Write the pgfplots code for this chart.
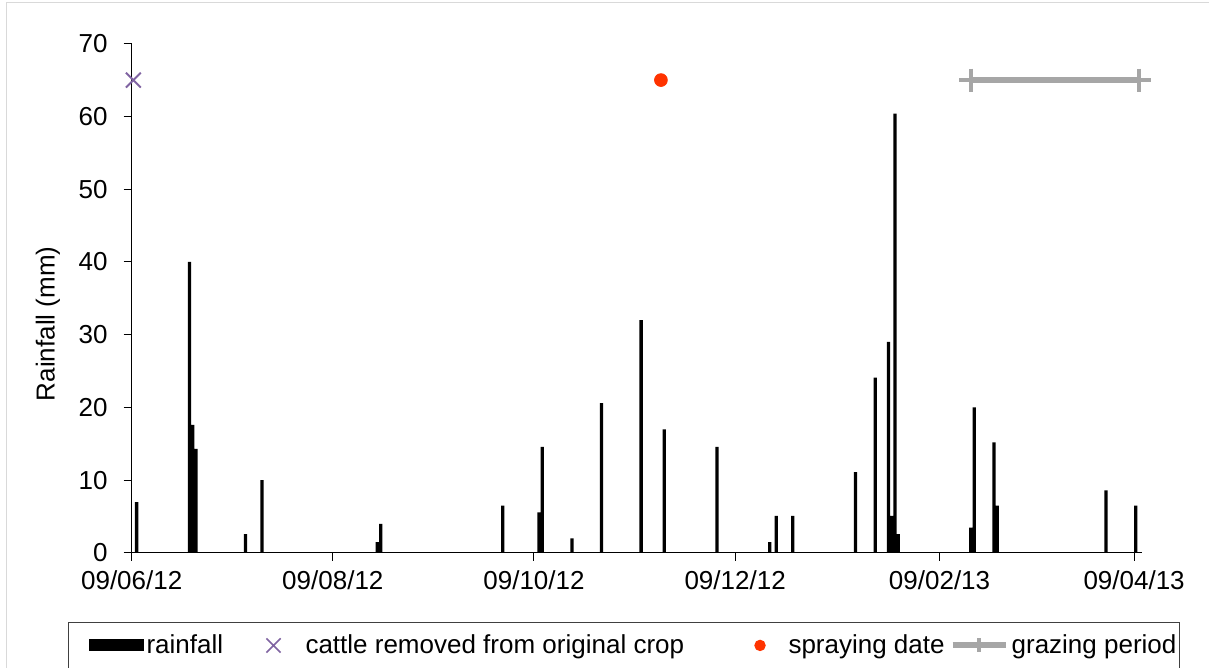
\documentclass[border=0pt]{standalone}
\usepackage{fontspec}
\setmainfont{Liberation Sans}
\usepackage{pgfplots}
\usepackage{pgfplotstable}
\pgfplotsset{compat=1.18}

\definecolor{cattle}{RGB}{128,100,162}
\definecolor{spray}{RGB}{255,51,0}
\definecolor{graze}{RGB}{166,166,166}
\newcommand{\chartfont}{\fontsize{13}{15.6}\selectfont}

% days after 09/06/12 (bars sit half a day right of the date), rainfall in mm
\pgfplotstableread{
day   rain
1.5   7
17.5  40
18.5  17.6
19.5  14.3
34.5  2.6
39.5  10
74.5  1.5
75.5  4
112.5 6.5
123.5 5.6
124.5 14.6
133.5 2
142.5 20.6
154.5 32
161.5 17
177.5 14.6
193.5 1.5
195.5 5.1
200.5 5.1
219.5 11.1
225.5 24.1
229.5 29
230.5 5.1
231.5 60.4
232.5 2.6
254.5 3.5
255.5 20
261.5 15.2
262.5 6.5
295.5 8.6
304.5 6.5
}\rainfall

\begin{document}
\begin{tikzpicture}
\begin{axis}[
    at={(65.85pt,57.5pt)}, anchor=south west,
    scale only axis,
    width=505.15pt, height=254.65pt,
    xmin=0, xmax=306.4,
    ymin=0, ymax=70,
    axis x line=bottom, axis y line=left,
    axis line style={-, black, line width=0.5pt},
    tick style={black, line width=0.5pt},
    tick align=outside, major tick length=4pt,
    xtick={0,61,122,183,245,304},
    xticklabels={09/06/12,09/08/12,09/10/12,09/12/12,09/02/13,09/04/13},
    ytick={0,10,...,70},
    /pgf/number format/assume math mode=true,
    tick label style={font=\chartfont},
    yticklabel style={xshift=-4.5pt},
    xticklabel style={yshift=-1.5pt},
    ylabel={Rainfall (mm)},
    ylabel style={font=\chartfont, at={(axis description cs:-0.083,0.45)}, anchor=center},
    clip=false,
    legend columns=4,
    legend cell align=left,
    legend style={at={(-0.0630,-0.1355)}, anchor=north west,
        draw=black!75, line width=0.5pt,
        inner xsep=0pt, inner ysep=5pt,
        font=\chartfont,
        nodes={inner xsep=1.5pt, inner ysep=1pt},
        /tikz/every even column/.style={column sep=0pt}},
]
\addplot[ybar, bar width=1.65pt, fill=black, draw=none,
    legend image code/.code={
        \path (0pt,0pt);
        \fill[black, draw=none] (10pt,-3pt) rectangle (37.5pt,3pt);}]
    table[x=day, y=rain]{\rainfall};
\addlegendentry{rainfall}

\addplot[only marks, mark=x, mark size=5.25pt, color=cattle, line width=1pt,
    legend image code/.code={
        \path (0pt,0pt); \path (37.2pt,0pt);
        \path[draw=none] plot[mark=x, mark size=5pt, mark options={draw=cattle, line width=0.8pt}]
            coordinates {(23.2pt,0pt)};}]
    coordinates {(0.5,65)};
\addlegendentry{cattle removed from original crop}

\addplot[only marks, mark=*, mark size=3.2pt, color=spray,
    mark options={draw=spray, fill=spray},
    legend image code/.code={
        \path (0pt,0pt); \path (48.7pt,0pt);
        \path[draw=none] plot[mark=*, mark size=2.6pt, mark options={draw=spray, fill=spray}]
            coordinates {(36.2pt,0pt)};}]
    coordinates {(160.5,65)};
\addlegendentry{spraying date}

\addplot[graze, line width=3pt, mark=+, mark size=5.75pt,
    mark options={line width=2pt},
    legend image code/.code={
        \path (0pt,0pt); \path (27.5pt,0pt);
        \draw[graze, line width=3pt] (1pt,0pt) -- (27.5pt,0pt);
        \path[draw=none] plot[mark=+, mark size=3.5pt, mark options={draw=graze, line width=2pt}]
            coordinates {(14.2pt,0pt)};}]
    coordinates {(254.5,65) (305.5,65)};
\addlegendentry{grazing period}
\end{axis}
\draw[black!15, line width=0.5pt] (3pt,-10pt) -- (3pt,332.5pt) -- (620pt,332.5pt);
\pgfresetboundingbox
\path[use as bounding box] (0pt,0pt) rectangle (604.5pt,334pt);
\end{tikzpicture}
\end{document}
